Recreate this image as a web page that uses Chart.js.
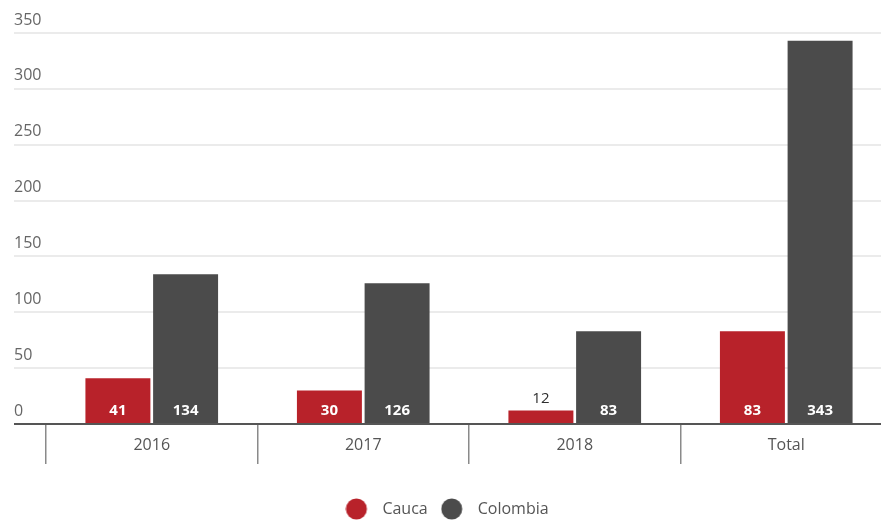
<!DOCTYPE html>
<html>
<head>
<meta charset="utf-8">
<script src="https://cdn.jsdelivr.net/npm/chart.js@4"></script>
<style>
  html, body { margin: 0; padding: 0; background: #fff; overflow: hidden; }
  #wrap { width: 881px; height: 524px; overflow: hidden; }
</style>
</head>
<body>
<div id="wrap"><canvas id="chart" width="892" height="527"></canvas></div>
<script>
var categories = ['2016', '2017', '2018', 'Total'];
var cauca = [41, 30, 12, 83];
var colombia = [134, 126, 83, 343];
var seriesNames = ['Cauca', 'Colombia'];
var yTicks = [0, 50, 100, 150, 200, 250, 300, 350];

var rouge = '#b8222a';
var gris = '#4b4b4b';
var police = '"Open Sans", "Noto Sans", sans-serif';

// petit rond pour la legende (plus gros que le texte), cale a gauche
function rond(couleur) {
  var c = document.createElement('canvas');
  c.width = 29; c.height = 22;
  var x = c.getContext('2d');
  x.fillStyle = couleur;
  x.beginPath();
  x.arc(11, 11, 10.5, 0, Math.PI * 2);
  x.fill();
  return c;
}

// les valeurs dans les barres
var etiquettes = {
  id: 'etiquettes',
  afterLayout: function (chart) {
    // legende centree sur la fenetre visible (881px) et pas sur le canvas
    chart.legend.left -= 6;
    chart.legend.right -= 6;
  },
  afterDatasetsDraw: function (chart) {
    var ctx = chart.ctx;
    ctx.save();
    ctx.textAlign = 'center';
    ctx.textBaseline = 'middle';
    chart.data.datasets.forEach(function (ds, i) {
      var meta = chart.getDatasetMeta(i);
      meta.data.forEach(function (bar, j) {
        var h = bar.base - bar.y;
        if (h > 24) {
          ctx.font = 'bold 15px ' + police;
          ctx.fillStyle = '#ffffff';
          ctx.fillText(ds.data[j], bar.x, bar.base - 12);
        } else {
          ctx.font = '15px ' + police;
          ctx.fillStyle = '#2e2e2e';
          ctx.fillText(ds.data[j], bar.x, bar.y - 12);
        }
      });
    });
    ctx.restore();
  }
};

new Chart(document.getElementById('chart'), {
  type: 'bar',
  data: {
    labels: categories,
    datasets: [
      {
        label: seriesNames[0],
        data: cauca,
        backgroundColor: rouge,
        pointStyle: rond(rouge),
        categoryPercentage: 0.64,
        barPercentage: 0.96
      },
      {
        label: seriesNames[1],
        data: colombia,
        backgroundColor: gris,
        pointStyle: rond(gris),
        categoryPercentage: 0.64,
        barPercentage: 0.96
      }
    ]
  },
  options: {
    responsive: false,
    animation: false,
    devicePixelRatio: 1,
    layout: { padding: { left: 14, top: 33, right: 0, bottom: 0 } },
    plugins: {
      tooltip: { enabled: false },
      legend: {
        position: 'bottom',
        labels: {
          usePointStyle: true,
          pointStyleWidth: 29,
          padding: 13,
          color: '#555',
          font: { family: police, size: 16 }
        }
      }
    },
    scales: {
      x: {
        grid: {
          drawOnChartArea: false,
          tickLength: 40,
          color: '#8a8a8a',
          lineWidth: 1.5
        },
        border: { display: true, color: '#555', width: 2 },
        ticks: {
          padding: -28,
          color: '#555',
          font: { family: police, size: 16 }
        },
        afterFit: function (s) { s.height = 64; }
      },
      y: {
        min: 0,
        max: 350,
        afterBuildTicks: function (s) {
          s.ticks = yTicks.map(function (v) { return { value: v }; });
        },
        grid: {
          tickLength: 32,
          color: function (c) { return c.tick && c.tick.value === 0 ? '#555' : '#ebebeb'; },
          lineWidth: 2
        },
        border: { display: false },
        ticks: {
          crossAlign: 'far',
          labelOffset: -13,
          padding: 0,
          color: '#666',
          font: { family: police, size: 16 }
        },
        afterFit: function (s) { s.width = 32; }
      }
    }
  },
  plugins: [etiquettes]
});
</script>
</body>
</html>
